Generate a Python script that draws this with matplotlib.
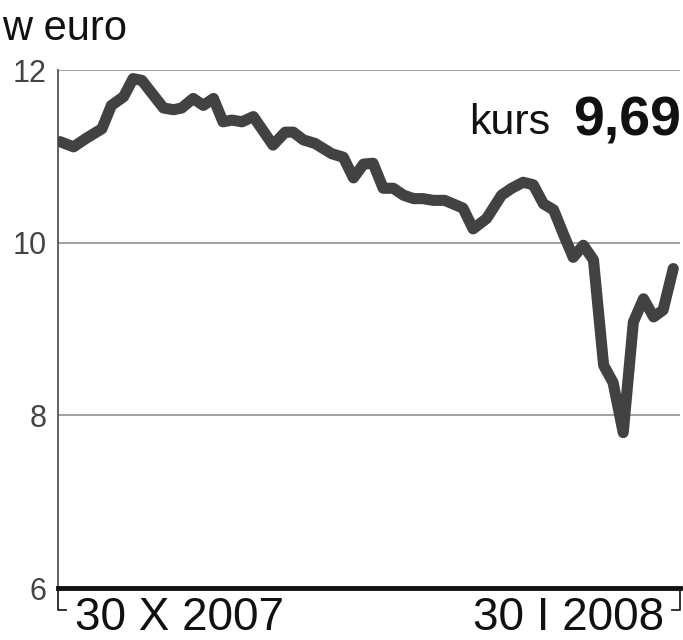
import matplotlib
matplotlib.use("Agg")
import matplotlib.pyplot as plt
from matplotlib.lines import Line2D

# days since 30 X 2007 and exchange rate in euro
days = [0.3, 2.3, 4.2, 6.5, 7.9, 9.7, 11.1, 12.4, 15.6, 17.1, 18.3, 20.0, 21.5, 23.0,
        24.4, 25.7, 27.2, 28.9, 31.8, 33.6, 34.8, 36.3, 38.0, 40.5, 42.2, 43.7, 45.2,
        46.6, 48.1, 49.6, 51.1, 52.6, 54.0, 55.5, 57.2, 59.9, 61.4, 63.4, 65.6, 67.1,
        68.8, 70.3, 71.8, 73.3, 74.8, 76.2, 77.7, 79.2, 80.7, 82.1, 83.6, 85.1, 86.6,
        88.1, 89.5, 91.0]
kurs = [11.17, 11.11, 11.21, 11.32, 11.59, 11.69, 11.90, 11.88, 11.56, 11.54, 11.56,
        11.67, 11.59, 11.67, 11.40, 11.42, 11.40, 11.46, 11.13, 11.28, 11.28, 11.19,
        11.15, 11.03, 10.99, 10.75, 10.91, 10.92, 10.63, 10.63, 10.55, 10.51, 10.51,
        10.49, 10.49, 10.40, 10.16, 10.28, 10.55, 10.63, 10.70, 10.67, 10.45, 10.38,
        10.09, 9.83, 9.97, 9.80, 8.58, 8.38, 7.80, 9.08, 9.35, 9.14, 9.22, 9.70]

yticks = [6, 8, 10, 12]
start_label = "30 X 2007"
end_label = "30 I 2008"
last_value = "9,69"

plt.rcParams['font.family'] = ['Liberation Sans', 'DejaVu Sans']

fig = plt.figure(figsize=(6.83, 6.4), dpi=100)
ax = fig.add_axes([58 / 683, 1 - 588 / 640, 622 / 683, 518 / 640])

for y in yticks[1:]:
    ax.axhline(y, color='#9a9a9a', lw=1.3, zorder=1)

ax.plot(days, kurs, color='#424242', lw=8, solid_joinstyle='round',
        solid_capstyle='round', zorder=3)

ax.set_xlim(0, 92)
ax.set_ylim(6, 12)
ax.set_yticks(yticks)
ax.set_yticklabels([str(t) for t in yticks], fontsize=22, color='#444444')
ax.set_xticks([])
ax.tick_params(axis='y', length=0, pad=8)

for s in ['top', 'right']:
    ax.spines[s].set_visible(False)
ax.spines['left'].set_color('#555555')
ax.spines['left'].set_linewidth(1.3)
ax.spines['bottom'].set_color('#111111')
ax.spines['bottom'].set_linewidth(3.5)
ax.spines['bottom'].set_zorder(4)

# small brackets under the time axis
ax.add_line(Line2D([0, 0, 0.013], [0, -0.043, -0.043], transform=ax.transAxes,
                   color='#222222', lw=1.3, clip_on=False))
ax.add_line(Line2D([1.0, 1.0, 0.987], [0, -0.043, -0.043], transform=ax.transAxes,
                   color='#222222', lw=1.3, clip_on=False))

ax.text(0.027, -0.015, start_label, transform=ax.transAxes, ha='left', va='top',
        fontsize=33, color='#111111')
ax.text(0.975, -0.015, end_label, transform=ax.transAxes, ha='right', va='top',
        fontsize=33, color='#111111')

fig.text(2 / 683, 1 - 40 / 640, "w euro", fontsize=30, color='#111111', ha='left',
         va='baseline')
fig.text(550 / 683, 1 - 134 / 640, "kurs", fontsize=31, color='#111111', ha='right',
         va='baseline')
fig.text(681 / 683, 1 - 136 / 640, last_value, fontsize=40, fontweight='bold',
         color='#111111', ha='right', va='baseline')

fig.savefig("out.png", dpi=100)
